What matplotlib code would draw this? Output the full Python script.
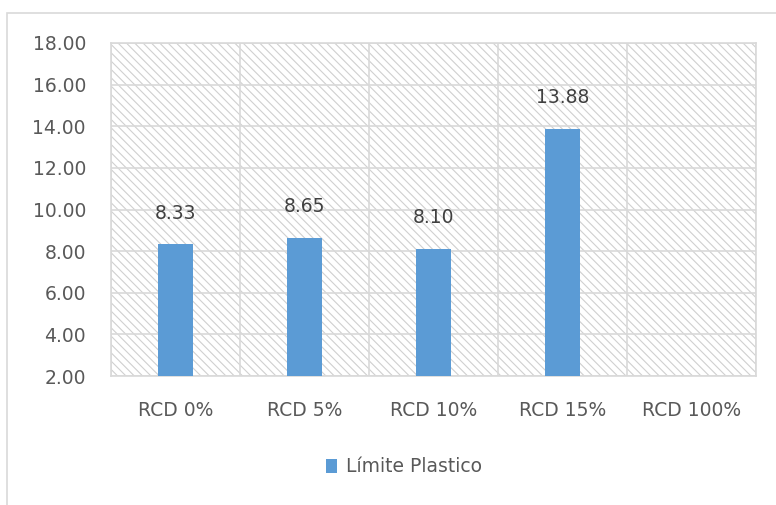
import matplotlib
matplotlib.use("Agg")
import matplotlib.pyplot as plt
import numpy as np
from matplotlib.patches import Rectangle

categories = ["RCD 0%", "RCD 5%", "RCD 10%", "RCD 15%", "RCD 100%"]
values = [8.33, 8.65, 8.10, 13.88, np.nan]
series_name = "Límite Plastico"
yticks = [2, 4, 6, 8, 10, 12, 14, 16, 18]

plt.rcParams['font.family'] = ['DejaVu Sans']
plt.rcParams['hatch.color'] = '#d0d0d0'
plt.rcParams['hatch.linewidth'] = 0.8

FS = 13.5
W, H = 776, 505
fig = plt.figure(figsize=(W/100, H/100), dpi=100)

# outer chart border
fig.patches.append(Rectangle((7/W, -0.1), 1.2, 1 - 13/H + 0.1, transform=fig.transFigure,
                             fill=False, edgecolor='#d9d9d9', linewidth=1.2))

ax = fig.add_axes([111/W, 1 - 376/H, (756-111)/W, (376-43)/H])
ax.set_facecolor('white')
ax.add_patch(Rectangle((0, 0), 1, 1, transform=ax.transAxes, facecolor='white',
                       hatch='\\\\\\\\', edgecolor='#d0d0d0', linewidth=0, zorder=0))

x = np.arange(len(categories))
bars = ax.bar(x, [v - 2 if not np.isnan(v) else np.nan for v in values], bottom=2,
              width=0.27, color='#5b9bd5', zorder=3, label=series_name)
for xi, v in zip(x, values):
    if not np.isnan(v):
        ax.text(xi, v + 1.5, f"{v:.2f}", ha='center', va='center', fontsize=FS, color='#404040', zorder=4)

ax.set_xlim(-0.5, len(categories) - 0.5)
ax.set_ylim(2, 18)
ax.set_yticks(yticks)
ax.set_yticklabels([f"{t:.2f}" for t in yticks])
ax.set_xticks(x)
ax.set_xticklabels(categories)
ax.set_xticks(np.arange(len(categories) + 1) - 0.5, minor=True)
ax.grid(axis='y', which='major', color='#d9d9d9', linewidth=1.2, zorder=1)
ax.grid(axis='x', which='minor', color='#d9d9d9', linewidth=1.2, zorder=1)
ax.tick_params(axis='both', which='both', length=0, labelsize=FS, colors='#595959')
ax.tick_params(axis='x', pad=18)
ax.tick_params(axis='y', pad=18)
for s in ax.spines.values():
    s.set_color('#d9d9d9')
    s.set_linewidth(1.2)
ax.set_axisbelow(True)

fig.legend(handles=[bars], labels=[series_name], loc='center', bbox_to_anchor=(404/W, 1 - 467/H),
           frameon=False, fontsize=FS, labelcolor='#595959', handlelength=0.6, handleheight=0.8,
           handletextpad=0.5)

fig.savefig("out.png", dpi=100)
